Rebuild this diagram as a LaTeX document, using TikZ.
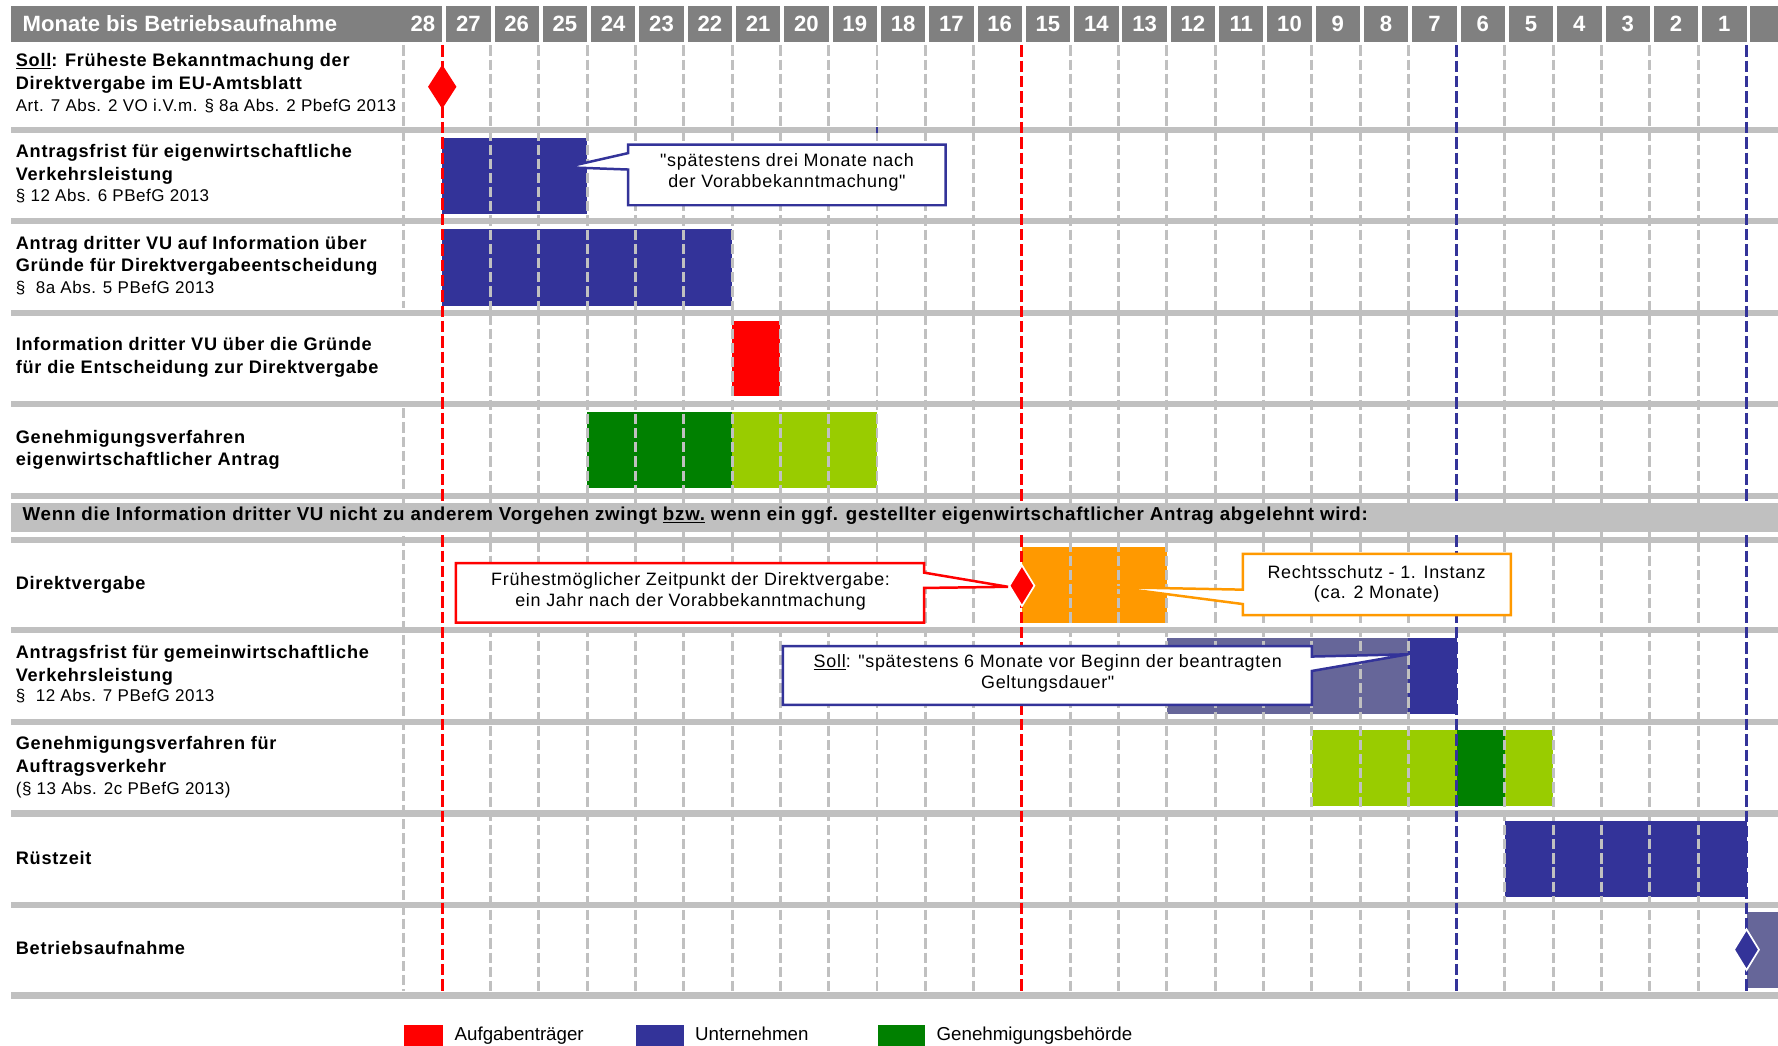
\documentclass[tikz,border=0pt]{standalone}
\usepackage{fontspec}
\setmainfont{Liberation Sans}
\newfontfamily\spacedfont[LetterSpace=4]{Liberation Sans}
\newfontfamily\reffont[LetterSpace=3]{Liberation Sans}
\usetikzlibrary{shapes.geometric,positioning}
\definecolor{unternehmen}{HTML}{333399}
\definecolor{unternehmenhell}{HTML}{666699}
\definecolor{behoerde}{HTML}{008000}
\definecolor{behoerdehell}{HTML}{99CC00}
\definecolor{rechtsschutz}{HTML}{FF9900}
\definecolor{aufgabe}{HTML}{FF0000}
\definecolor{rahmen}{HTML}{C0C0C0}
\definecolor{kopf}{HTML}{808080}
\tikzstyle{gantt}=[
    x=1pt,y=-1pt,
    every node/.style={inner sep=0pt, outer sep=0pt},
]
\tikzstyle{separator}=[draw=rahmen, line width=5.5pt]
\tikzstyle{gridline}=[draw=rahmen, line width=2.6pt, dash pattern=on 9pt off 3.5pt]
\tikzstyle{markline}=[line width=2.6pt, dash pattern=on 10pt off 3.5pt]
\tikzstyle{headtext}=[text=white, anchor=base, font=\fontsize{19.5}{22}\selectfont\bfseries]
\tikzstyle{rowtitle}=[anchor=base west, font=\spacedfont\fontsize{16}{20}\selectfont\bfseries]
\tikzstyle{rowref}=[anchor=base west, font=\reffont\fontsize{15}{18}\selectfont]
\tikzstyle{milestone}=[diamond, inner sep=0pt, minimum width=22pt, minimum height=36pt, draw=white, line width=1.5pt]
\tikzstyle{callout}=[fill=white, line width=2.2pt, line join=miter]
\tikzstyle{callouttext}=[anchor=base, font=\spacedfont\fontsize{15.8}{18}\selectfont]
\tikzstyle{legendtext}=[anchor=base west, font=\fontsize{16.5}{20}\selectfont]
% x position of the month boundary k (k=0: between 28 and 27)
\newcommand{\gx}[1]{390+42.6*(#1)}

\begin{document}
\begin{tikzpicture}[gantt]
    \useasboundingbox (0,0) rectangle (1568,922);

    % Kopfzeile
    \fill[kopf] (10,5.3) rectangle (390,37);
    \node[headtext, anchor=base west] (kopftitel) at (20,28) {Monate bis Betriebsaufnahme};
    \node[headtext] (m28) at (373,28) {28};
    \foreach \m in {1,...,27}{
        \fill[kopf] ({\gx{27-\m}+3.5},5.3) rectangle ({\gx{28-\m}},37);
        \node[headtext] (m\m) at ({\gx{27-\m}+23},28) {\m};
    }
    \fill[kopf] ({\gx{27}+3.5},5.3) rectangle (1568,37);

    % Trennlinien
    \foreach \y in {114.5,195,276,356.5,437.5,476,555.5,636.5,717.5,798,878}
        \draw[separator] (10,\y) -- (1568,\y);

    % Balken
    \fill[unternehmen] ({\gx{0}},121.5) rectangle ({\gx{3}},188.5);
    \fill[unternehmen] ({\gx{0}},202) rectangle ({\gx{6}},270);
    \fill[aufgabe] ({\gx{6}},283) rectangle ({\gx{7}},349.5);
    \fill[behoerde] ({\gx{3}},363.5) rectangle ({\gx{6}},430.5);
    \fill[behoerdehell] ({\gx{6}},363.5) rectangle ({\gx{9}},430.5);
    \fill[rechtsschutz] ({\gx{12}},482.5) rectangle ({\gx{15}},549.5);
    \fill[unternehmenhell] ({\gx{15}},563) rectangle ({\gx{20}},630);
    \fill[unternehmen] ({\gx{20}},563) rectangle ({\gx{21}},630);
    \fill[behoerdehell] ({\gx{18}},643.5) rectangle ({\gx{21}},710.5);
    \fill[behoerde] ({\gx{21}},643.5) rectangle ({\gx{22}},710.5);
    \fill[behoerdehell] ({\gx{22}},643.5) rectangle ({\gx{23}},710.5);
    \fill[unternehmen] ({\gx{22}},724) rectangle ({\gx{27}},791);
    \fill[unternehmenhell] ({\gx{27}},804) rectangle (1568,871);

    % Monatsraster
    \foreach \k in {1,...,11,13,14,...,20,22,23,...,26}
        \draw[gridline] ({\gx{\k}},40) -- ({\gx{\k}},874);
    \draw[gridline] (356,40) -- (356,272);
    \draw[gridline] (356,360) -- (356,874);
    \draw[markline, draw=aufgabe] ({\gx{0}},40) -- ({\gx{0}},874);
    \draw[markline, draw=aufgabe] ({\gx{12}},40) -- ({\gx{12}},874);
    \draw[markline, draw=unternehmen] ({\gx{21}},40) -- ({\gx{21}},874);
    \draw[markline, draw=unternehmen] ({\gx{27}},40) -- ({\gx{27}},874);
    \draw[markline, draw=unternehmen, dash pattern=] ({\gx{9}},112) -- ({\gx{9}},117.5);

    % Zwischenzeile
    \fill[rahmen] (10,443.7) rectangle (1568,468.9);
    \node[anchor=base west, font=\spacedfont\fontsize{16.5}{20}\selectfont\bfseries] (wenn) at (20,458.6)
        {Wenn die Information dritter VU nicht zu anderem Vorgehen zwingt \underline{bzw.} wenn ein ggf. gestellter eigenwirtschaftlicher Antrag abgelehnt wird:};

    % Meilensteine
    \node[milestone, fill=aufgabe, draw=none, minimum width=25pt, minimum height=39pt] (vorab) at ({\gx{0}},76.5) {};
    \node[milestone, fill=aufgabe] (vergabe) at ({\gx{12}},516.5) {};
    \node[milestone, fill=unternehmen] (start) at ({\gx{27}},837.5) {};

    % Zeilentitel
    \node[rowtitle] (soll1) at (14,58.8) {\underline{Soll}: Früheste Bekanntmachung der};
    \node[rowtitle] (soll2) at (14,79) {Direktvergabe im EU-Amtsblatt};
    \node[rowref] (soll3) at (14,97.9) {Art. 7 Abs. 2 VO i.V.m. § 8a Abs. 2 PbefG 2013};
    \node[rowtitle] (frist1) at (14,138.8) {Antragsfrist für eigenwirtschaftliche};
    \node[rowtitle] (frist2) at (14,158.8) {Verkehrsleistung};
    \node[rowref] (frist3) at (14,177.3) {§ 12 Abs. 6 PBefG 2013};
    \node[rowtitle] (antrag1) at (14,219.6) {Antrag dritter VU auf Information über};
    \node[rowtitle] (antrag2) at (14,239.6) {Gründe für Direktvergabeentscheidung};
    \node[rowref] (antrag3) at (14,258.7) {§\ \ 8a Abs. 5 PBefG 2013};
    \node[rowtitle] (info1) at (14,309.5) {Information dritter VU über die Gründe};
    \node[rowtitle] (info2) at (14,329.8) {für die Entscheidung zur Direktvergabe};
    \node[rowtitle] (eigen1) at (14,391) {Genehmigungsverfahren};
    \node[rowtitle] (eigen2) at (14,410.5) {eigenwirtschaftlicher Antrag};
    \node[rowtitle] (direkt) at (14,519.5) {Direktvergabe};
    \node[rowtitle] (gemein1) at (14,581) {Antragsfrist für gemeinwirtschaftliche};
    \node[rowtitle] (gemein2) at (14,601) {Verkehrsleistung};
    \node[rowref] (gemein3) at (14,618.8) {§\ \ 12 Abs. 7 PBefG 2013};
    \node[rowtitle] (auftrag1) at (14,661.4) {Genehmigungsverfahren für};
    \node[rowtitle] (auftrag2) at (14,681.4) {Auftragsverkehr};
    \node[rowref] (auftrag3) at (14,701) {(§ 13 Abs. 2c PBefG 2013)};
    \node[rowtitle] (ruest) at (14,762) {Rüstzeit};
    \node[rowtitle] (betrieb) at (14,842) {Betriebsaufnahme};

    % Hinweise
    \coordinate (spitze1) at (499,147.5);
    \draw[callout, draw=unternehmen] (554,127.5) -- (834,127.5) -- (834,181) -- (554,181)
        -- (554,149.5) -- (spitze1) -- (554,135) -- cycle;
    \node[callouttext] (hinweis1a) at (694,147) {"spätestens drei Monate nach};
    \node[callouttext] (hinweis1b) at (694,165) {der Vorabbekanntmachung"};

    \coordinate (spitze2) at (889,517.5);
    \draw[callout, draw=aufgabe] (402,496.5) -- (815,496.5) -- (815,505) -- (spitze2)
        -- (815,518.5) -- (815,549) -- (402,549) -- cycle;
    \node[callouttext] (hinweis2a) at (609,516.5) {Frühestmöglicher Zeitpunkt der Direktvergabe:};
    \node[callouttext] (hinweis2b) at (609,534.5) {ein Jahr nach der Vorabbekanntmachung};

    \coordinate (spitze3) at (981.7,517.8);
    \draw[callout, draw=rechtsschutz] (1096,488.5) -- (1332.5,488.5) -- (1332.5,542.5) -- (1096,542.5)
        -- (1096,532.7) -- (spitze3) -- (1096,520) -- cycle;
    \node[callouttext] (hinweis3a) at (1214,509.8) {Rechtsschutz - 1. Instanz};
    \node[callouttext] (hinweis3b) at (1214,527.5) {(ca. 2 Monate)};

    \coordinate (spitze4) at (1242,577);
    \draw[callout, draw=unternehmen] (690.5,569.7) -- (1157,569.7) -- (1157,579) -- (spitze4)
        -- (1157,591.7) -- (1157,621.7) -- (690.5,621.7) -- cycle;
    \node[callouttext] (hinweis4a) at (924,589) {\underline{Soll}: "spätestens 6 Monate vor Beginn der beantragten};
    \node[callouttext] (hinweis4b) at (924,606.8) {Geltungsdauer"};

    % Legende
    \fill[aufgabe] (356,904) rectangle (390.5,930);
    \node[legendtext] (leg1) at (401,918) {Aufgabenträger};
    \fill[unternehmen] (561,904) rectangle (603,930);
    \node[legendtext] (leg2) at (613,918) {Unternehmen};
    \fill[behoerde] (774,904) rectangle (816,930);
    \node[legendtext] (leg3) at (826,918) {Genehmigungsbehörde};
\end{tikzpicture}
\end{document}
